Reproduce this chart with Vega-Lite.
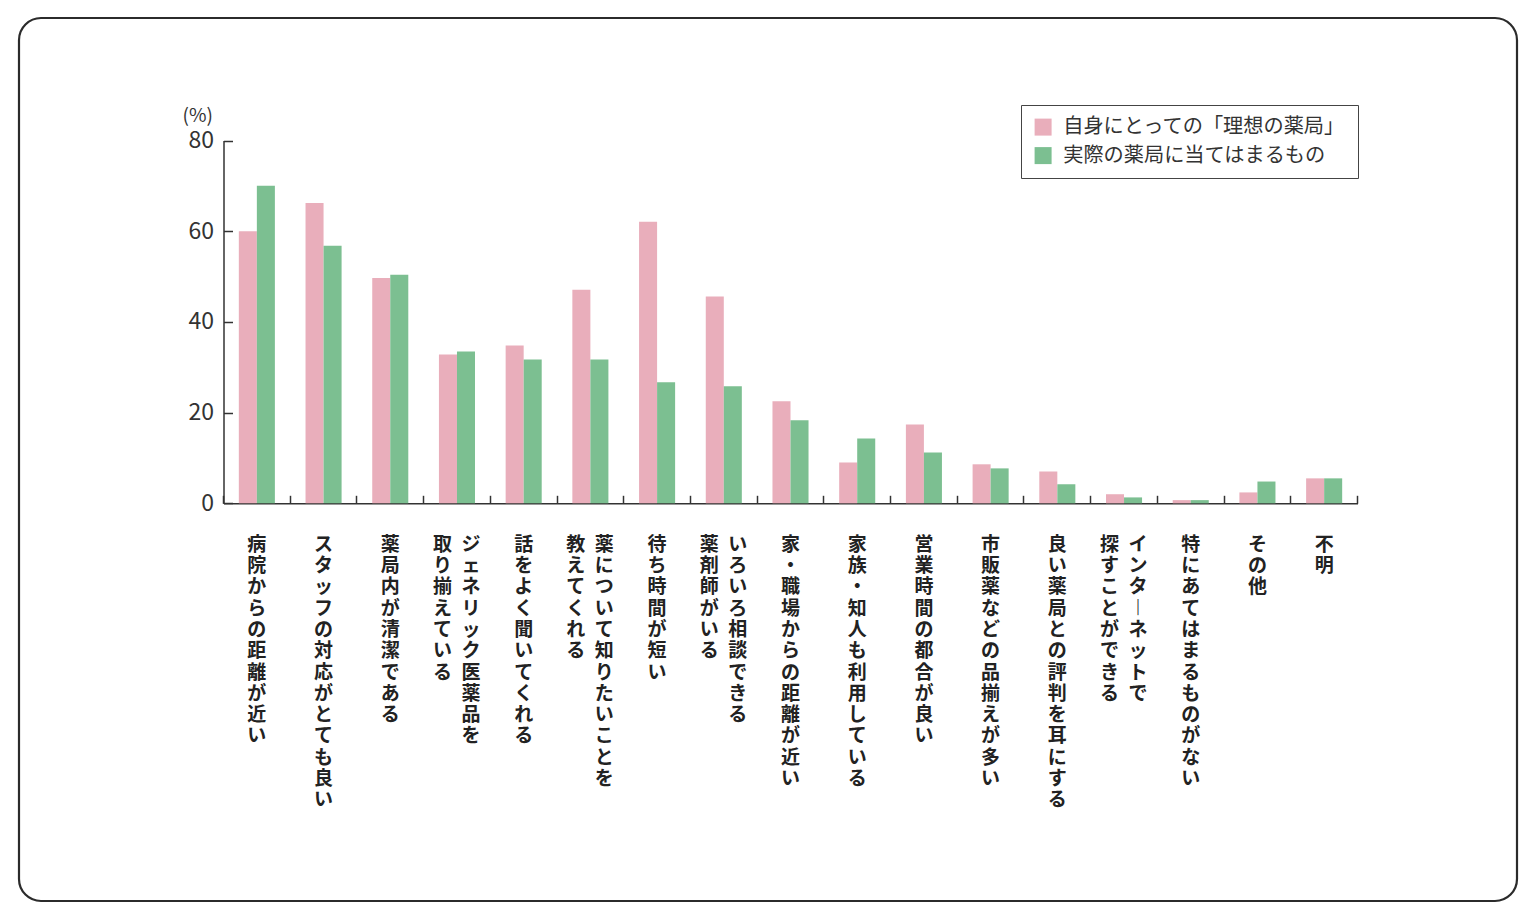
{
  "$schema": "https://vega.github.io/schema/vega-lite/v6.json",
  "width": 1498,
  "height": 883,
  "autosize": "none",
  "padding": {"left": 19, "top": 18, "right": 19, "bottom": 17},
  "background": "white",
  "config": {
    "font": "Noto Sans CJK JP",
    "view": {"stroke": "#2b2b2b", "strokeWidth": 2.2, "cornerRadius": 22}
  },
  "data": {
    "values": [
      {"item": "病院からの距離が近い", "series": "自身にとっての「理想の薬局」", "value": 60.0},
      {"item": "病院からの距離が近い", "series": "実際の薬局に当てはまるもの", "value": 70.0},
      {"item": "スタッフの対応がとても良い", "series": "自身にとっての「理想の薬局」", "value": 66.2},
      {"item": "スタッフの対応がとても良い", "series": "実際の薬局に当てはまるもの", "value": 56.8},
      {"item": "薬局内が清潔である", "series": "自身にとっての「理想の薬局」", "value": 49.7},
      {"item": "薬局内が清潔である", "series": "実際の薬局に当てはまるもの", "value": 50.4},
      {"item": "ジェネリック医薬品を\n取り揃えている", "series": "自身にとっての「理想の薬局」", "value": 32.8},
      {"item": "ジェネリック医薬品を\n取り揃えている", "series": "実際の薬局に当てはまるもの", "value": 33.5},
      {"item": "話をよく聞いてくれる", "series": "自身にとっての「理想の薬局」", "value": 34.8},
      {"item": "話をよく聞いてくれる", "series": "実際の薬局に当てはまるもの", "value": 31.7},
      {"item": "薬について知りたいことを\n教えてくれる", "series": "自身にとっての「理想の薬局」", "value": 47.1},
      {"item": "薬について知りたいことを\n教えてくれる", "series": "実際の薬局に当てはまるもの", "value": 31.7},
      {"item": "待ち時間が短い", "series": "自身にとっての「理想の薬局」", "value": 62.1},
      {"item": "待ち時間が短い", "series": "実際の薬局に当てはまるもの", "value": 26.7},
      {"item": "いろいろ相談できる\n薬剤師がいる", "series": "自身にとっての「理想の薬局」", "value": 45.6},
      {"item": "いろいろ相談できる\n薬剤師がいる", "series": "実際の薬局に当てはまるもの", "value": 25.8},
      {"item": "家・職場からの距離が近い", "series": "自身にとっての「理想の薬局」", "value": 22.5},
      {"item": "家・職場からの距離が近い", "series": "実際の薬局に当てはまるもの", "value": 18.3},
      {"item": "家族・知人も利用している", "series": "自身にとっての「理想の薬局」", "value": 9.0},
      {"item": "家族・知人も利用している", "series": "実際の薬局に当てはまるもの", "value": 14.3},
      {"item": "営業時間の都合が良い", "series": "自身にとっての「理想の薬局」", "value": 17.4},
      {"item": "営業時間の都合が良い", "series": "実際の薬局に当てはまるもの", "value": 11.2},
      {"item": "市販薬などの品揃えが多い", "series": "自身にとっての「理想の薬局」", "value": 8.6},
      {"item": "市販薬などの品揃えが多い", "series": "実際の薬局に当てはまるもの", "value": 7.7},
      {"item": "良い薬局との評判を耳にする", "series": "自身にとっての「理想の薬局」", "value": 7.0},
      {"item": "良い薬局との評判を耳にする", "series": "実際の薬局に当てはまるもの", "value": 4.2},
      {"item": "インターネットで\n探すことができる", "series": "自身にとっての「理想の薬局」", "value": 2.0},
      {"item": "インターネットで\n探すことができる", "series": "実際の薬局に当てはまるもの", "value": 1.3},
      {"item": "特にあてはまるものがない", "series": "自身にとっての「理想の薬局」", "value": 0.7},
      {"item": "特にあてはまるものがない", "series": "実際の薬局に当てはまるもの", "value": 0.7},
      {"item": "その他", "series": "自身にとっての「理想の薬局」", "value": 2.4},
      {"item": "その他", "series": "実際の薬局に当てはまるもの", "value": 4.8},
      {"item": "不明", "series": "自身にとっての「理想の薬局」", "value": 5.5},
      {"item": "不明", "series": "実際の薬局に当てはまるもの", "value": 5.5}
    ]
  },
  "mark": {"type": "bar"},
  "encoding": {
    "x": {
      "field": "item",
      "type": "nominal",
      "sort": null,
      "scale": {"range": [204.5, 1338.5], "paddingInner": 0, "paddingOuter": 0},
      "axis": {
        "title": null,
        "orient": "bottom",
        "offset": -397.7,
        "domainColor": "#333333",
        "domainWidth": 1.5,
        "tickColor": "#333333",
        "tickWidth": 1.5,
        "tickSize": -8,
        "bandPosition": 1,
        "tickExtra": true,
        "labelAngle": 0,
        "labelAlign": {"condition": {"test": "isString(datum.value) && indexof(datum.value,'\\n')>=0", "value": "right"}, "value": "center"},
        "labelOffset": {"condition": {"test": "isString(datum.value) && indexof(datum.value,'\\n')>=0", "value": 23.5}, "value": 0},
        "labelBaseline": "top",
        "labelFont": "Noto Sans CJK JP",
        "labelFontWeight": "bold",
        "labelFontSize": 19,
        "labelLineHeight": 21.3,
        "labelColor": "#222222",
        "labelPadding": 40,
        "labelOverlap": false,
        "labelExpr": "!isString(datum.value)?'':(indexof(datum.value,'\\n')<0?split(datum.value,''):[substring(datum.value,indexof(datum.value,'\\n')+1,indexof(datum.value,'\\n')+2)+'\u2002'+(0<indexof(datum.value,'\\n')?replace(substring(datum.value,0,1),'ー','\ufe31'):''),substring(datum.value,indexof(datum.value,'\\n')+2,indexof(datum.value,'\\n')+3)+'\u2002'+(1<indexof(datum.value,'\\n')?replace(substring(datum.value,1,2),'ー','\ufe31'):''),substring(datum.value,indexof(datum.value,'\\n')+3,indexof(datum.value,'\\n')+4)+'\u2002'+(2<indexof(datum.value,'\\n')?replace(substring(datum.value,2,3),'ー','\ufe31'):''),substring(datum.value,indexof(datum.value,'\\n')+4,indexof(datum.value,'\\n')+5)+'\u2002'+(3<indexof(datum.value,'\\n')?replace(substring(datum.value,3,4),'ー','\ufe31'):''),substring(datum.value,indexof(datum.value,'\\n')+5,indexof(datum.value,'\\n')+6)+'\u2002'+(4<indexof(datum.value,'\\n')?replace(substring(datum.value,4,5),'ー','\ufe31'):''),substring(datum.value,indexof(datum.value,'\\n')+6,indexof(datum.value,'\\n')+7)+'\u2002'+(5<indexof(datum.value,'\\n')?replace(substring(datum.value,5,6),'ー','\ufe31'):''),substring(datum.value,indexof(datum.value,'\\n')+7,indexof(datum.value,'\\n')+8)+'\u2002'+(6<indexof(datum.value,'\\n')?replace(substring(datum.value,6,7),'ー','\ufe31'):''),substring(datum.value,indexof(datum.value,'\\n')+8,indexof(datum.value,'\\n')+9)+'\u2002'+(7<indexof(datum.value,'\\n')?replace(substring(datum.value,7,8),'ー','\ufe31'):''),substring(datum.value,indexof(datum.value,'\\n')+9,indexof(datum.value,'\\n')+10)+'\u2002'+(8<indexof(datum.value,'\\n')?replace(substring(datum.value,8,9),'ー','\ufe31'):''),substring(datum.value,indexof(datum.value,'\\n')+10,indexof(datum.value,'\\n')+11)+'\u2002'+(9<indexof(datum.value,'\\n')?replace(substring(datum.value,9,10),'ー','\ufe31'):''),substring(datum.value,indexof(datum.value,'\\n')+11,indexof(datum.value,'\\n')+12)+'\u2002'+(10<indexof(datum.value,'\\n')?replace(substring(datum.value,10,11),'ー','\ufe31'):''),substring(datum.value,indexof(datum.value,'\\n')+12,indexof(datum.value,'\\n')+13)+'\u2002'+(11<indexof(datum.value,'\\n')?replace(substring(datum.value,11,12),'ー','\ufe31'):'')])"
      }
    },
    "xOffset": {
      "field": "series",
      "type": "nominal",
      "sort": ["自身にとっての「理想の薬局」", "実際の薬局に当てはまるもの"],
      "scale": {"paddingInner": 0, "paddingOuter": 0.85}
    },
    "y": {
      "field": "value",
      "type": "quantitative",
      "scale": {"domain": [0, 80], "range": [485.3, 122.5], "nice": false, "zero": true},
      "axis": {
        "values": [0, 20, 40, 60, 80],
        "grid": false,
        "offset": -204.5,
        "domainColor": "#333333",
        "domainWidth": 1.5,
        "tickColor": "#333333",
        "tickWidth": 1.5,
        "tickSize": -9,
        "labelFont": "Noto Sans CJK JP",
        "labelFontSize": 23,
        "labelColor": "#333333",
        "labelPadding": 19,
        "title": "(%)",
        "titleAngle": 0,
        "titleAlign": "left",
        "titleBaseline": "middle",
        "titleX": -41.5,
        "titleY": 97,
        "titleFont": "Noto Sans CJK JP",
        "titleFontWeight": "normal",
        "titleFontSize": 19,
        "titleColor": "#333333"
      }
    },
    "color": {
      "field": "series",
      "type": "nominal",
      "sort": ["自身にとっての「理想の薬局」", "実際の薬局に当てはまるもの"],
      "scale": {
        "domain": ["自身にとっての「理想の薬局」", "実際の薬局に当てはまるもの"],
        "range": ["#e9aebb", "#7cbf91"]
      },
      "legend": {
        "title": null,
        "orient": "none",
        "legendX": 1002,
        "legendY": 87,
        "direction": "vertical",
        "strokeColor": "#444444",
        "padding": 12,
        "symbolType": "square",
        "symbolSize": 289,
        "symbolStrokeWidth": 0,
        "symbolOpacity": 1,
        "labelFont": "Noto Sans CJK JP",
        "labelFontSize": 20.2,
        "labelColor": "#333333",
        "labelOffset": 10,
        "labelLimit": 0,
        "rowPadding": 7.5
      }
    }
  }
}
